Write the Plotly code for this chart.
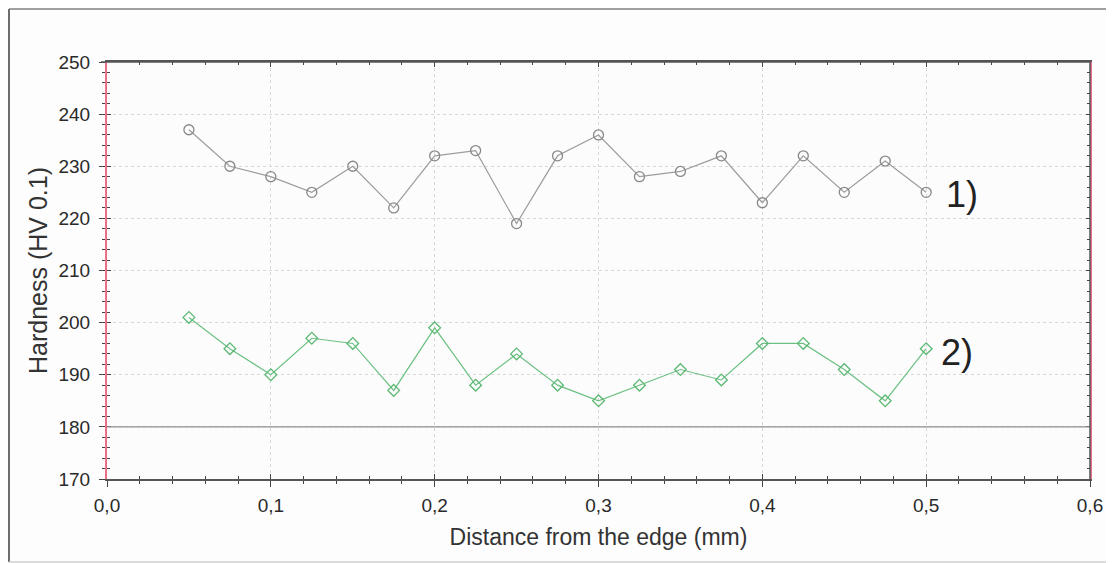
import plotly.graph_objects as go

# ---- data ----
distance_mm = [0.05, 0.075, 0.1, 0.125, 0.15, 0.175, 0.2, 0.225, 0.25, 0.275,
               0.3, 0.325, 0.35, 0.375, 0.4, 0.425, 0.45, 0.475, 0.5]
hardness_1 = [237, 230, 228, 225, 230, 222, 232, 233, 219, 232,
              236, 228, 229, 232, 223, 232, 225, 231, 225]
hardness_2 = [201, 195, 190, 197, 196, 187, 199, 188, 194, 188,
              185, 188, 191, 189, 196, 196, 191, 185, 195]
series_labels = ["1)", "2)"]
x_title = "Distance from the edge (mm)"
y_title = "Hardness (HV 0.1)"
x_range = [0, 0.6]
y_range = [170, 250]
baseline_value = 180

# ---- layout geometry (pixels; page body has an 8px margin) ----
OFF = 8
W, H = 1114 - OFF, 563 - OFF
L, R, T, B = 107 - OFF, 24, 62 - OFF, 84
pw, ph = W - L - R, H - T - B


def px_x(p):  # viewport px -> paper x
    return (p - OFF - L) / pw


def px_y(p):  # viewport px -> paper y
    return (H - B - (p - OFF)) / ph


fig = go.Figure()
fig.add_trace(go.Scatter(
    x=distance_mm, y=hardness_1, mode="lines+markers",
    line=dict(color="#9c9c9c", width=1.2),
    marker=dict(symbol="circle-open", size=10, color="#888888", line=dict(width=1.3)),
    showlegend=False, xaxis="x", yaxis="y"))
fig.add_trace(go.Scatter(
    x=distance_mm, y=hardness_2, mode="lines+markers",
    line=dict(color="#6cc083", width=1.2),
    marker=dict(symbol="diamond-open", size=9, color="#5cb874", line=dict(width=1.3)),
    showlegend=False, xaxis="x", yaxis="y"))

font_family = "Liberation Sans, Arial, sans-serif"
tick_font = dict(family=font_family, size=19, color="#2a2a2a")
x_title_font = dict(family=font_family, size=23, color="#333333")
y_title_font = dict(family=font_family, size=25, color="#333333")

fig.update_layout(
    width=W, height=H,
    margin=dict(l=L, r=R, t=T, b=B, autoexpand=False),
    paper_bgcolor="#fdfdfd",
    plot_bgcolor="#fcfcfc",
    separators=",.",
    xaxis=dict(
        range=x_range, dtick=0.1, tick0=0, tickformat=".1f", automargin=False,
        showgrid=True, gridcolor="#d8d8d8", griddash="dot", gridwidth=1,
        zeroline=False,
        showline=True, linecolor="#555555", linewidth=1.5,
        ticks="outside", ticklen=6, tickwidth=1, tickcolor="#444444",
        minor=dict(dtick=0.02, ticks="outside", ticklen=3, tickcolor="#444444", showgrid=False),
        tickfont=tick_font, ticklabelstandoff=2,
        title=dict(text=x_title, font=x_title_font, standoff=14),
    ),
    xaxis2=dict(
        range=x_range, dtick=0.1, tick0=0, overlaying="x", side="bottom", automargin=False,
        showgrid=False, zeroline=False, showticklabels=False,
        showline=True, linecolor="#555555", linewidth=1.5, mirror="ticks",
        ticks="inside", ticklen=5, tickwidth=1, tickcolor="#444444",
        minor=dict(dtick=0.02, ticks="inside", ticklen=3, tickcolor="#444444", showgrid=False),
    ),
    yaxis=dict(
        range=y_range, dtick=10, tick0=170, automargin=False,
        showgrid=True, gridcolor="#d8d8d8", griddash="dot", gridwidth=1,
        zeroline=False,
        showline=True, linecolor="#ec6f86", linewidth=2,
        ticks="outside", ticklen=6, tickwidth=1, tickcolor="#444444",
        minor=dict(dtick=2, ticks="outside", ticklen=3, tickcolor="#444444", showgrid=False),
        tickfont=tick_font, ticklabelstandoff=5,
        title=dict(text=y_title, font=y_title_font, standoff=4),
    ),
    yaxis2=dict(
        range=y_range, dtick=10, tick0=170, overlaying="y", side="left", automargin=False,
        showgrid=False, zeroline=False, showticklabels=False,
        showline=True, linecolor="#ec6f86", linewidth=2, mirror="ticks",
        ticks="inside", ticklen=4, tickwidth=1, tickcolor="#444444",
        minor=dict(dtick=2, ticks="inside", ticklen=3, tickcolor="#444444", showgrid=False),
    ),
)

# invisible trace to activate the overlay axes
fig.add_trace(go.Scatter(x=[None], y=[None], xaxis="x2", yaxis="y2",
                         showlegend=False, hoverinfo="skip"))

shapes = [
    # baseline at 180
    dict(type="line", xref="paper", yref="y", x0=0, x1=1, y0=baseline_value, y1=baseline_value,
         line=dict(color="#8f8f8f", width=1.3), layer="above"),
    # right border
    dict(type="line", xref="paper", yref="paper", x0=1, x1=1, y0=0, y1=1,
         line=dict(color="#555555", width=1.5), layer="above"),
    # top border extended left
    dict(type="line", xref="paper", yref="paper", x0=px_x(101), x1=1, y0=1, y1=1,
         line=dict(color="#555555", width=1.5), layer="above"),
    # outer frame
    dict(type="line", xref="paper", yref="paper", x0=px_x(9), x1=px_x(9), y0=px_y(9), y1=px_y(562),
         line=dict(color="#6e6e6e", width=2), layer="above"),
    dict(type="line", xref="paper", yref="paper", x0=px_x(9), x1=px_x(1114), y0=px_y(9), y1=px_y(9),
         line=dict(color="#808080", width=1.5), layer="above"),
    dict(type="line", xref="paper", yref="paper", x0=px_x(9), x1=px_x(1114), y0=px_y(562), y1=px_y(562),
         line=dict(color="#cfcfcf", width=1.5), layer="above"),
]
fig.update_layout(shapes=shapes)

label_pos = [(distance_mm[-1] + 0.011, 224.5), (distance_mm[-1] + 0.008, 194.2)]
for lab, (lx, ly) in zip(series_labels, label_pos):
    fig.add_annotation(x=lx, y=ly, xref="x", yref="y", text=lab, showarrow=False,
                       xanchor="left", yanchor="middle",
                       font=dict(family=font_family, size=36, color="#222222"))

fig.write_html("out.html")
